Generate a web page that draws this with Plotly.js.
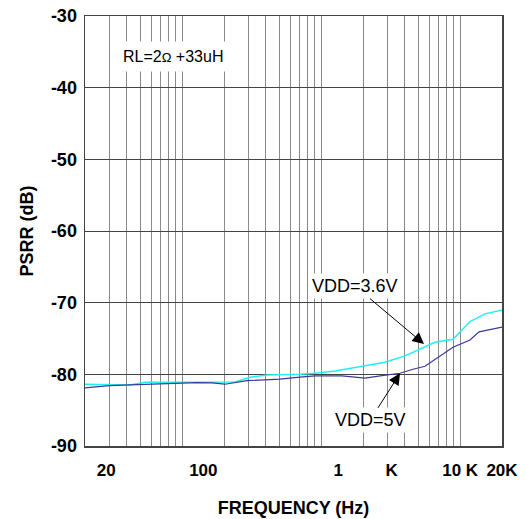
<!DOCTYPE html>
<html>
<head>
<meta charset="utf-8">
<script src="https://cdn.plot.ly/plotly-3.0.1.min.js"></script>
<style>
html,body{margin:0;padding:0;background:#fff;}
#chart{width:526px;height:519px;}
</style>
</head>
<body>
<div id="chart"></div>
<script>
// VDD = 3.6V (cyan)
const freq36 = [20, 42, 54, 187, 240, 308, 408, 704, 903, 1258, 1967, 2879, 4011, 5585, 6594, 8884, 11775, 15095, 20000];
const psrr36 = [-81.38, -81.48, -81.10, -81.10, -81.06, -80.40, -80.08, -80.00, -79.85, -79.53, -78.92, -78.31, -77.43, -76.13, -75.52, -75.10, -72.64, -71.56, -71.01];
// VDD = 5V (navy)
const freq5 = [20, 30, 42, 69, 128, 164, 203, 293, 506, 704, 903, 1412, 2067, 2740, 3693, 4580, 5585, 8884, 11775, 13665, 20000];
const psrr5 = [-81.90, -81.58, -81.48, -81.34, -81.16, -81.20, -81.38, -80.88, -80.68, -80.40, -80.22, -80.22, -80.54, -80.18, -79.85, -79.29, -78.87, -76.22, -75.20, -74.08, -73.42];

// x tick labels (positions as they appear in the reference) and grid frequencies
const xTickPos = [28.4, 142, 2090, 10000, 20000];
const xTickText = ["20", "100", "1\u00A0\u00A0\u00A0\u00A0\u00A0\u00A0\u00A0\u00A0\u00A0K", "10 K", "20K"];
const gridFreqs = [30, 40, 50, 60, 70, 80, 90, 100, 200, 300, 400, 500, 600, 700, 800, 900, 1000,
                   2000, 3000, 4000, 5000, 6000, 7000, 8000, 9000, 10000];
// y ticks
const yTickVals = [-90, -80, -70, -60, -50, -40, -30];
const yTickText = ["-90", "-80", "-70", "-60", "-50", "-40", "-30"];

const font = "Liberation Sans, Arial, Helvetica, sans-serif";

const traces = [
  {x: freq36, y: psrr36, type: "scatter", mode: "lines", name: "VDD=3.6V",
   line: {color: "#22f0f0", width: 1.5}},
  {x: freq5, y: psrr5, type: "scatter", mode: "lines", name: "VDD=5V",
   line: {color: "#3a3a9a", width: 1.2}}
];

const layout = {
  width: 526, height: 519,
  margin: {l: 85, r: 24, t: 16, b: 73},
  paper_bgcolor: "#fff", plot_bgcolor: "#fff",
  showlegend: false,
  font: {family: font, color: "#000"},
  xaxis: {
    type: "log",
    range: [Math.log10(20), Math.log10(20000)],
    tickmode: "array", tickvals: xTickPos, ticktext: xTickText,
    showgrid: false, ticks: "", ticklabelstandoff: 8,
    tickfont: {size: 17, weight: "bold", family: font},
    minor: {tickmode: "array", tickvals: gridFreqs, showgrid: true, gridcolor: "#8a8a8a", gridwidth: 1, ticks: ""},
    showline: true, mirror: true, linecolor: "#444", linewidth: 1.5,
    zeroline: false,
    title: {text: "FREQUENCY (Hz)", font: {size: 18, weight: "bold", family: font}, standoff: 22}
  },
  yaxis: {
    range: [-90, -30],
    tickmode: "array", tickvals: yTickVals, ticktext: yTickText,
    showgrid: true, gridcolor: "#444", gridwidth: 1,
    ticks: "", ticklabelstandoff: 3,
    tickfont: {size: 18, weight: "bold", family: font},
    showline: true, mirror: true, linecolor: "#444", linewidth: 1.5,
    zeroline: false,
    title: {text: "PSRR (dB)", font: {size: 18, weight: "bold", family: font}, standoff: 12}
  },
  annotations: [
    {xref: "paper", yref: "paper", x: 0.212, y: 0.905, xanchor: "center", yanchor: "middle",
     text: "RL=2<span style='font-size:13px'>\u03A9</span> +33uH", showarrow: false,
     font: {size: 16, family: font, color: "#000"}, bgcolor: "#fff", borderpad: 6},
    {xref: "x", yref: "y", x: Math.log10(5495), y: -75.77, ax: -69, ay: -58,
     text: "VDD=3.6V", showarrow: true, arrowhead: 2, arrowsize: 2.3, arrowwidth: 1, arrowcolor: "#000",
     font: {size: 18, family: font, color: "#000"}, bgcolor: "#fff", borderpad: 2},
    {xref: "x", yref: "y", x: Math.log10(3692), y: -79.86, ax: -30, ay: 47,
     text: "VDD=5V", showarrow: true, arrowhead: 2, arrowsize: 2.3, arrowwidth: 1, arrowcolor: "#000",
     font: {size: 18, family: font, color: "#000"}, bgcolor: "#fff", borderpad: 2}
  ]
};

Plotly.newPlot("chart", traces, layout, {displayModeBar: false, staticPlot: true});
</script>
</body>
</html>
